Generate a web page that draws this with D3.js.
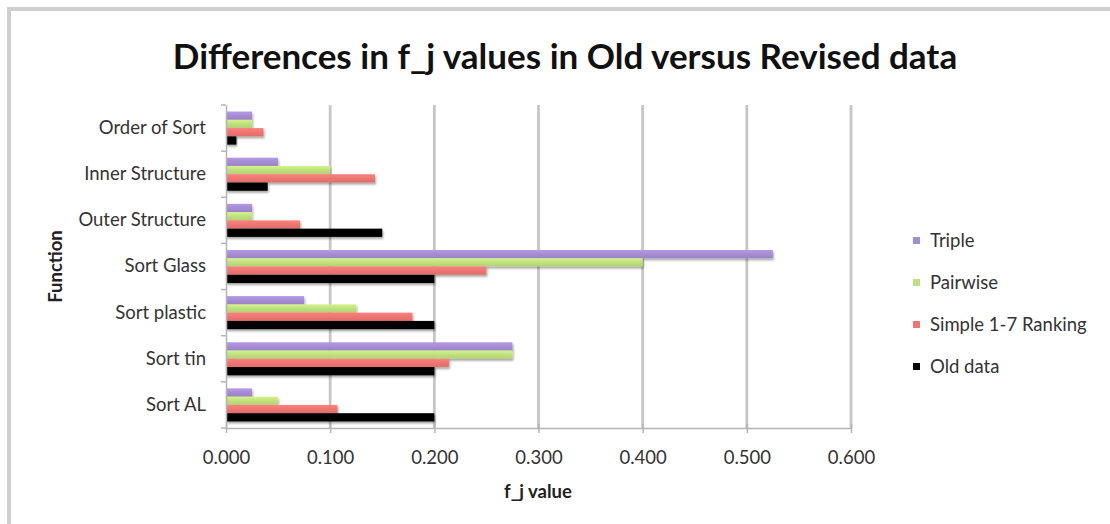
<!DOCTYPE html>
<html>
<head>
<meta charset="utf-8">
<script src="https://cdn.jsdelivr.net/npm/d3@7"></script>
<style>
  html, body { margin: 0; padding: 0; background: #fff; }
  svg { display: block; font-family: Lato, "Open Sans", sans-serif; }
</style>
</head>
<body>
<svg id="chart" width="1110" height="524"></svg>
<script>
// Categories, bottom to top as they appear on the axis
const categories = ["Sort AL", "Sort tin", "Sort plastic", "Sort Glass", "Outer Structure", "Inner Structure", "Order of Sort"];

// Series names, top bar of each group first
const seriesNames = ["Triple", "Pairwise", "Simple 1-7 Ranking", "Old data"];

// f_j values per series, in category order
const triple   = [0.025, 0.275, 0.075, 0.525, 0.025, 0.050, 0.025];
const pairwise = [0.050, 0.275, 0.125, 0.400, 0.025, 0.100, 0.025];
const simple   = [0.107, 0.214, 0.179, 0.250, 0.071, 0.143, 0.036];
const oldData  = [0.200, 0.200, 0.200, 0.200, 0.150, 0.040, 0.010];

const xTicks = [0, 0.1, 0.2, 0.3, 0.4, 0.5, 0.6];

const seriesValues = [triple, pairwise, simple, oldData];
const colors = ["#a68cd4", "#bfe07e", "#ee7571", "#000000"];

const labelSize = 18.5;
const svg = d3.select("#chart");

// Chart frame
svg.append("rect")
  .attr("x", 9).attr("y", 9)
  .attr("width", 1200).attr("height", 600)
  .attr("fill", "none").attr("stroke", "#cfcfcf").attr("stroke-width", 4);

const plot = { left: 226, right: 851, top: 105, bottom: 428 };

const x = d3.scaleLinear().domain([0, 0.6]).range([plot.left, plot.right]);
const y = d3.scaleBand().domain(categories).range([plot.bottom, plot.top]).padding(0);
const ySeries = d3.scaleBand().domain(seriesNames).range([0, y.bandwidth()])
  .paddingInner(0).paddingOuter(0.79);

// Vertical gridlines
svg.append("g")
  .selectAll("line")
  .data(xTicks.slice(1))
  .join("line")
  .attr("x1", d => x(d)).attr("x2", d => x(d))
  .attr("y1", plot.top).attr("y2", plot.bottom)
  .attr("stroke", "#c6c6c6").attr("stroke-width", 2.8);

// Bar gradients for a soft glossy look
const defs = svg.append("defs");
colors.forEach((c, i) => {
  const g = defs.append("linearGradient")
    .attr("id", "grad" + i).attr("x1", 0).attr("y1", 0).attr("x2", 0).attr("y2", 1);
  g.append("stop").attr("offset", "0%").attr("stop-color", d3.color(c).brighter(0.25));
  g.append("stop").attr("offset", "50%").attr("stop-color", c);
  g.append("stop").attr("offset", "100%").attr("stop-color", d3.color(c).darker(0.2));
});
const shadow = defs.append("filter").attr("id", "shadow")
  .attr("x", "-5%").attr("y", "-40%").attr("width", "115%").attr("height", "200%");
shadow.append("feGaussianBlur").attr("in", "SourceAlpha").attr("stdDeviation", 1.2).attr("result", "b");
shadow.append("feOffset").attr("in", "b").attr("dx", 1).attr("dy", 1.5).attr("result", "o");
shadow.append("feComponentTransfer").attr("in", "o").attr("result", "s")
  .append("feFuncA").attr("type", "linear").attr("slope", 0.35);
const merge = shadow.append("feMerge");
merge.append("feMergeNode").attr("in", "s");
merge.append("feMergeNode").attr("in", "SourceGraphic");

// Bars
const barData = [];
categories.forEach((cat, ci) => {
  seriesNames.forEach((s, si) => {
    barData.push({ cat, series: s, si, value: seriesValues[si][ci] });
  });
});

svg.append("g")
  .selectAll("rect")
  .data(barData)
  .join("rect")
  .attr("x", x(0))
  .attr("y", d => y(d.cat) + ySeries(d.series))
  .attr("width", d => x(d.value) - x(0))
  .attr("height", ySeries.bandwidth())
  .attr("fill", d => `url(#grad${d.si})`)
  .attr("filter", "url(#shadow)");

// Y axis
const yAxisG = svg.append("g")
  .attr("transform", `translate(${plot.left},0)`)
  .call(d3.axisLeft(y).tickSize(0).tickPadding(20));
yAxisG.select(".domain").attr("stroke", "#b5b5b5").attr("stroke-width", 1.5);
yAxisG.selectAll("text")
  .attr("font-size", labelSize).attr("fill", "#333").attr("font-family", "Lato, sans-serif");
// Category boundary ticks
const yBounds = categories.map(c => y(c)).concat([plot.bottom]);
svg.append("g").selectAll("line").data(yBounds).join("line")
  .attr("x1", plot.left - 5).attr("x2", plot.left)
  .attr("y1", d => d).attr("y2", d => d)
  .attr("stroke", "#b5b5b5").attr("stroke-width", 1.5);

// X axis
const xAxisG = svg.append("g")
  .attr("transform", `translate(0,${plot.bottom})`)
  .call(d3.axisBottom(x).tickValues(xTicks).tickFormat(d3.format(".3f")).tickSizeInner(5).tickSizeOuter(0).tickPadding(18));
xAxisG.select(".domain").attr("stroke", "#b5b5b5").attr("stroke-width", 1.5);
xAxisG.selectAll(".tick line").attr("stroke", "#b5b5b5").attr("stroke-width", 1.5).attr("y1", -4);
xAxisG.selectAll("text")
  .attr("font-size", labelSize).attr("fill", "#333").attr("font-family", "Lato, sans-serif");

// Titles
svg.append("text")
  .attr("x", 565).attr("y", 69)
  .attr("text-anchor", "middle")
  .attr("font-size", 35).attr("font-weight", "bold").attr("fill", "#111")
  .text("Differences in f_j values in Old versus Revised data");

svg.append("text")
  .attr("x", 538).attr("y", 498)
  .attr("text-anchor", "middle")
  .attr("font-size", labelSize).attr("font-weight", "bold").attr("fill", "#222")
  .text("f_j value");

svg.append("text")
  .attr("transform", `translate(62,${(plot.top + plot.bottom) / 2}) rotate(-90)`)
  .attr("text-anchor", "middle")
  .attr("font-size", labelSize).attr("font-weight", "bold").attr("fill", "#222")
  .text("Function");

// Legend
const legend = svg.append("g").attr("transform", "translate(913,241)");
const items = legend.selectAll("g").data(seriesNames).join("g")
  .attr("transform", (d, i) => `translate(0,${i * 42})`);
items.append("rect")
  .attr("x", 0).attr("y", -4).attr("width", 7).attr("height", 7)
  .attr("fill", (d, i) => colors[i]);
items.append("text")
  .attr("x", 17).attr("y", 6)
  .attr("font-size", labelSize).attr("fill", "#333")
  .text(d => d);
</script>
</body>
</html>
